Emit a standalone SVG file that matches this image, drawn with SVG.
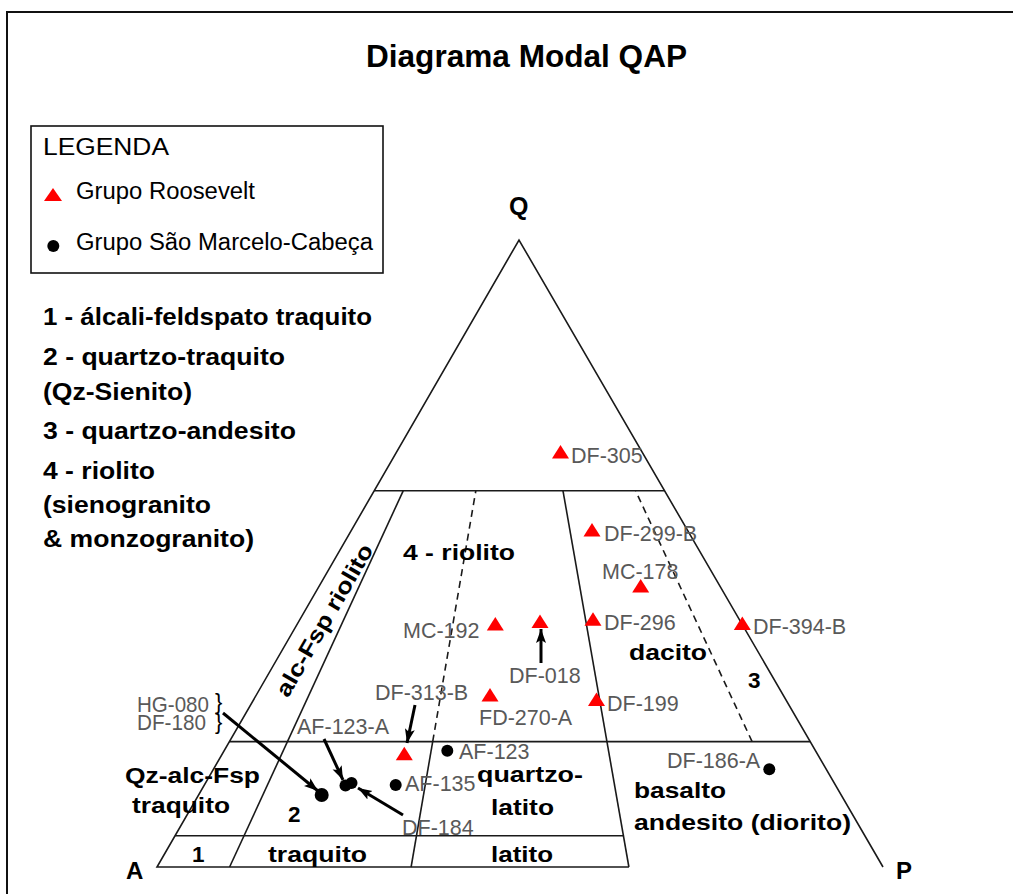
<svg xmlns="http://www.w3.org/2000/svg" width="1013" height="894" viewBox="0 0 1013 894">
<style>
.ln{stroke:#1a1a1a;stroke-width:1.6;fill:none}
.dash{stroke-dasharray:7 5}
.fr{stroke:#111;stroke-width:2;fill:none}
.arr{stroke:#000;stroke-width:3;fill:none;marker-end:url(#ah)}
.lbl{font-family:"Liberation Sans",Arial,sans-serif;font-size:21.5px;fill:#595959}
.b{font-family:"Liberation Sans",Arial,sans-serif;font-weight:bold;font-size:22.5px;fill:#000}
.leg{font-family:"Liberation Sans",Arial,sans-serif;font-size:23.5px;fill:#000}
.tri{fill:#ff0000}
.dot{fill:#000}
</style>
<defs>
<path id="tr" d="M0,0 L8.5,13.5 L-8.5,13.5 Z"/>
<marker id="ah" markerWidth="16" markerHeight="12" refX="14" refY="5" orient="auto" markerUnits="userSpaceOnUse">
<path d="M0,0 L14,5 L0,10 L3,5 Z" fill="#000"/>
</marker>
</defs>
<rect width="1013" height="894" fill="#fff"/>
<path class="fr" d="M7,894 V12 H1013"/>
<text class="b" x="526.5" y="67" style="font-size:31.5px" text-anchor="middle" textLength="321" lengthAdjust="spacingAndGlyphs">Diagrama Modal QAP</text>

<g id="legend">
<rect x="31" y="126" width="352" height="147" fill="none" stroke="#111" stroke-width="1.6"/>
<text class="leg" x="43" y="155" textLength="126" lengthAdjust="spacingAndGlyphs">LEGENDA</text>
<path class="tri" d="M53,188 L62,201 L44,201 Z"/>
<text class="leg" x="76" y="199" textLength="179" lengthAdjust="spacingAndGlyphs">Grupo Roosevelt</text>
<circle class="dot" cx="53.3" cy="246" r="6"/>
<text class="leg" x="76" y="250" textLength="297" lengthAdjust="spacingAndGlyphs">Grupo São Marcelo-Cabeça</text>
</g>

<g id="key">
<text class="b" x="43" y="325" style="font-size:23.5px" textLength="329" lengthAdjust="spacingAndGlyphs">1 - álcali-feldspato traquito</text>
<text class="b" x="43" y="365" style="font-size:23.5px" textLength="242" lengthAdjust="spacingAndGlyphs">2 - quartzo-traquito</text>
<text class="b" x="43" y="400" style="font-size:23.5px" textLength="149" lengthAdjust="spacingAndGlyphs">(Qz-Sienito)</text>
<text class="b" x="43" y="439" style="font-size:23.5px" textLength="253" lengthAdjust="spacingAndGlyphs">3 - quartzo-andesito</text>
<text class="b" x="43" y="479" style="font-size:23.5px" textLength="112" lengthAdjust="spacingAndGlyphs">4 - riolito</text>
<text class="b" x="43" y="513" style="font-size:23.5px" textLength="168" lengthAdjust="spacingAndGlyphs">(sienogranito</text>
<text class="b" x="43" y="547" style="font-size:23.5px" textLength="211" lengthAdjust="spacingAndGlyphs">&amp; monzogranito)</text>
</g>

<g id="triangle">
<path class="ln" d="M628.9,867 H157 L519,240 L883,867"/>
<path class="ln" d="M374.2,490.8 H664.6"/>
<path class="ln" d="M229.4,741.6 H810.2"/>
<path class="ln" d="M175.1,835.7 H623.4"/>
<path class="ln" d="M229.6,867 L403.2,490.8"/>
<path class="ln" d="M411.1,867 L432.7,741.6"/>
<path class="ln dash" d="M432.7,741.6 L475.8,490.8"/>
<path class="ln" d="M628.9,867 L563,490.8"/>
<path class="ln dash" d="M752.1,741.6 L635.6,490.8"/>
</g>

<g id="vertices">
<text class="b" x="509" y="215" style="font-size:25px">Q</text>
<text class="b" x="126" y="879" style="font-size:24px">A</text>
<text class="b" x="896" y="879" style="font-size:24px">P</text>
</g>

<g id="fields">
<text class="b" x="403" y="560" textLength="112" lengthAdjust="spacingAndGlyphs">4 - riolito</text>
<text class="b" x="629" y="660" textLength="78" lengthAdjust="spacingAndGlyphs">dacito</text>
<text class="b" x="748" y="688">3</text>
<text class="b" x="634" y="798" textLength="92" lengthAdjust="spacingAndGlyphs">basalto</text>
<text class="b" x="634" y="830" textLength="217" lengthAdjust="spacingAndGlyphs">andesito (diorito)</text>
<text class="b" x="477" y="782" textLength="106" lengthAdjust="spacingAndGlyphs">quartzo-</text>
<text class="b" x="491" y="815" textLength="63" lengthAdjust="spacingAndGlyphs">latito</text>
<text class="b" x="491" y="862" textLength="62" lengthAdjust="spacingAndGlyphs">latito</text>
<text class="b" x="268" y="862" textLength="99" lengthAdjust="spacingAndGlyphs">traquito</text>
<text class="b" x="192" y="862">1</text>
<text class="b" x="288" y="822">2</text>
<text class="b" x="125" y="783" textLength="135" lengthAdjust="spacingAndGlyphs">Qz-alc-Fsp</text>
<text class="b" x="132" y="813" textLength="98" lengthAdjust="spacingAndGlyphs">traquito</text>
<text class="b" transform="translate(331,624) rotate(-60)" x="0" y="0" text-anchor="middle" textLength="172" lengthAdjust="spacingAndGlyphs">alc-Fsp riolito</text>
</g>

<g id="samples">
<use href="#tr" class="tri" x="560.5" y="445"/>
<use href="#tr" class="tri" x="592" y="523"/>
<use href="#tr" class="tri" x="640.7" y="579"/>
<use href="#tr" class="tri" x="495.3" y="617"/>
<use href="#tr" class="tri" x="540" y="614.5"/>
<use href="#tr" class="tri" x="593" y="612.3"/>
<use href="#tr" class="tri" x="742.3" y="616.5"/>
<use href="#tr" class="tri" x="596.5" y="692.5"/>
<use href="#tr" class="tri" x="404.3" y="746.7"/>
<use href="#tr" class="tri" x="490" y="688"/>
<circle class="dot" cx="447.3" cy="750.7" r="6"/>
<circle class="dot" cx="395.7" cy="785" r="6"/>
<circle class="dot" cx="769.3" cy="769.3" r="6"/>
<circle class="dot" cx="321.7" cy="795" r="7"/>
<circle class="dot" cx="345.5" cy="785.5" r="6"/>
<circle class="dot" cx="351.5" cy="783" r="6"/>
<text class="lbl" x="571" y="463">DF-305</text>
<text class="lbl" x="604" y="541">DF-299-B</text>
<text class="lbl" x="602" y="579">MC-178</text>
<text class="lbl" x="403" y="638">MC-192</text>
<text class="lbl" x="604" y="630">DF-296</text>
<text class="lbl" x="753" y="634">DF-394-B</text>
<text class="lbl" x="509" y="683">DF-018</text>
<text class="lbl" x="375" y="700">DF-313-B</text>
<text class="lbl" x="479" y="725">FD-270-A</text>
<text class="lbl" x="607" y="711">DF-199</text>
<text class="lbl" x="459" y="759">AF-123</text>
<text class="lbl" x="405" y="791">AF-135</text>
<text class="lbl" x="402" y="835">DF-184</text>
<text class="lbl" x="297" y="734">AF-123-A</text>
<text class="lbl" x="667" y="768">DF-186-A</text>
<text class="lbl" x="137" y="712" textLength="72" lengthAdjust="spacingAndGlyphs">HG-080</text>
<text class="lbl" x="137" y="730" textLength="69" lengthAdjust="spacingAndGlyphs">DF-180</text>
<text class="leg" x="215" y="709" style="font-size:22px">}</text>
<text class="leg" x="215" y="729" style="font-size:22px">}</text>
</g>

<g id="connectors">
<path class="arr" d="M223,713 L318,791"/>
<path class="arr" d="M324,739 L343,780"/>
<path class="arr" d="M403,815 L358,788"/>
<path class="arr" d="M415,705 L407,743"/>
<path class="arr" d="M541,663 L541,629"/>
</g>
</svg>
